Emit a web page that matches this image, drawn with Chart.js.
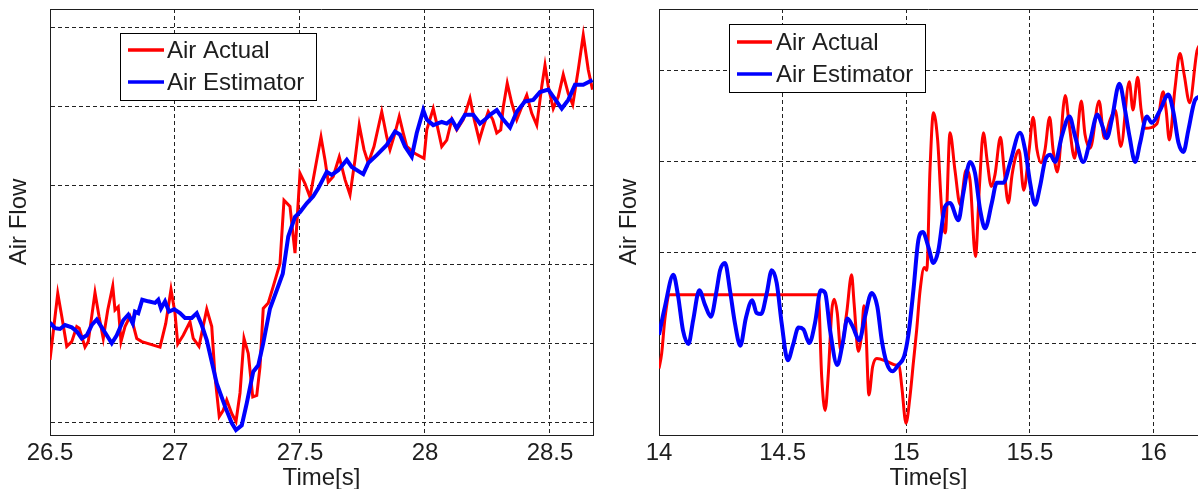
<!DOCTYPE html>
<html>
<head>
<meta charset="utf-8">
<script src="https://cdn.jsdelivr.net/npm/chart.js@4.4.0/dist/chart.umd.min.js"></script>
<style>
  html, body { margin: 0; padding: 0; background: #fff; }
  #wrap { position: relative; width: 1198px; height: 489px; overflow: hidden; }
  .panel { position: absolute; top: 0; height: 489px; }
  #p1 { left: 0; width: 600px; }
  #p2 { left: 600px; width: 598px; }
</style>
</head>
<body>
<div id="wrap">
  <div class="panel" id="p1"><canvas id="c1" width="600" height="489"></canvas></div>
  <div class="panel" id="p2"><canvas id="c2" width="598" height="489"></canvas></div>
</div>
<script>
// valores: [tiempo (s), flujo en unidades de rejilla]
const leftTicks = [26.5, 27, 27.5, 28, 28.5];
const rightTicks = [14, 14.5, 15, 15.5, 16];
const leftGrid = [0, 1, 2, 3, 4, 5];
const rightGrid = [1, 2, 3, 4];

const leftActual = [[26.5,0.80],[26.531,1.64],[26.547,1.35],[26.567,0.97],[26.587,1.03],[26.607,1.22],[26.617,1.20],[26.64,0.96],[26.653,1.03],[26.68,1.65],[26.696,1.35],[26.713,1.07],[26.731,1.43],[26.751,1.73],[26.76,1.43],[26.773,1.47],[26.784,1.03],[26.8,1.22],[26.82,1.35],[26.833,1.24],[26.847,1.07],[26.867,1.03],[26.94,0.96],[26.963,1.26],[26.984,1.69],[27.0,1.39],[27.011,1.00],[27.033,1.11],[27.06,1.28],[27.073,1.07],[27.096,0.97],[27.127,1.44],[27.147,1.22],[27.16,0.59],[27.177,0.08],[27.193,0.16],[27.207,0.29],[27.227,0.12],[27.244,0.02],[27.26,0.38],[27.276,1.07],[27.293,0.88],[27.311,0.33],[27.327,0.35],[27.34,0.71],[27.353,1.45],[27.373,1.52],[27.393,1.73],[27.42,2.02],[27.436,2.82],[27.46,2.74],[27.48,2.15],[27.5,3.16],[27.52,3.03],[27.54,2.86],[27.567,3.33],[27.584,3.62],[27.6,3.33],[27.613,3.05],[27.633,3.12],[27.657,3.37],[27.68,3.08],[27.7,2.89],[27.72,3.33],[27.737,3.77],[27.756,3.46],[27.773,3.29],[27.796,3.50],[27.827,3.94],[27.847,3.62],[27.86,3.46],[27.88,3.67],[27.897,3.88],[27.913,3.67],[27.927,3.50],[27.96,3.41],[27.996,3.35],[28.007,3.71],[28.033,3.98],[28.047,3.79],[28.067,3.50],[28.087,3.58],[28.107,3.84],[28.127,3.71],[28.153,3.84],[28.18,4.11],[28.197,3.84],[28.217,3.58],[28.233,3.75],[28.253,3.94],[28.271,3.84],[28.287,3.67],[28.303,3.71],[28.313,4.00],[28.329,4.30],[28.347,4.05],[28.367,3.84],[28.387,4.00],[28.407,4.15],[28.427,3.92],[28.447,3.77],[28.467,4.26],[28.48,4.53],[28.493,4.26],[28.513,3.98],[28.533,4.13],[28.553,4.41],[28.573,4.17],[28.591,4.03],[28.613,4.47],[28.633,4.91],[28.653,4.47],[28.67,4.22]];

const leftEstimator = [[26.5,1.27],[26.52,1.20],[26.54,1.19],[26.56,1.24],[26.587,1.21],[26.607,1.16],[26.627,1.07],[26.647,1.11],[26.667,1.24],[26.687,1.31],[26.707,1.21],[26.727,1.11],[26.747,1.01],[26.767,1.11],[26.793,1.30],[26.813,1.37],[26.831,1.26],[26.84,1.41],[26.853,1.39],[26.869,1.56],[26.893,1.54],[26.92,1.52],[26.933,1.56],[26.944,1.45],[26.96,1.54],[26.976,1.41],[26.997,1.44],[27.02,1.39],[27.04,1.33],[27.067,1.33],[27.087,1.39],[27.107,1.24],[27.127,1.05],[27.167,0.50],[27.2,0.21],[27.227,0.00],[27.244,-0.09],[27.267,-0.03],[27.287,0.25],[27.313,0.65],[27.333,0.73],[27.353,1.01],[27.38,1.45],[27.407,1.68],[27.431,1.89],[27.453,2.36],[27.48,2.61],[27.5,2.67],[27.527,2.78],[27.553,2.87],[27.573,2.97],[27.607,3.18],[27.627,3.14],[27.653,3.20],[27.687,3.33],[27.707,3.24],[27.753,3.15],[27.773,3.29],[27.807,3.39],[27.847,3.52],[27.88,3.69],[27.9,3.65],[27.92,3.50],[27.947,3.37],[27.967,3.67],[27.993,3.96],[28.007,3.84],[28.033,3.77],[28.067,3.81],[28.087,3.79],[28.107,3.84],[28.127,3.73],[28.16,3.90],[28.193,3.90],[28.22,3.79],[28.24,3.84],[28.26,3.90],[28.287,3.96],[28.313,3.84],[28.34,3.74],[28.367,3.94],[28.4,4.07],[28.433,4.09],[28.46,4.19],[28.493,4.22],[28.513,4.13],[28.547,3.98],[28.573,4.09],[28.6,4.28],[28.633,4.28],[28.67,4.34]];

const rightActual = [[14.0,0.73],[14.011,0.90],[14.024,1.28],[14.044,1.54],[14.644,1.54],[14.658,0.64],[14.672,0.27],[14.685,0.68],[14.699,1.37],[14.709,1.49],[14.721,1.34],[14.735,0.93],[14.759,1.34],[14.779,1.76],[14.789,1.45],[14.806,0.92],[14.82,1.12],[14.829,1.42],[14.837,1.15],[14.849,0.44],[14.864,0.75],[14.881,0.84],[14.921,0.81],[14.955,0.77],[14.971,0.76],[14.982,0.53],[14.999,0.13],[15.015,0.42],[15.029,0.80],[15.042,1.15],[15.056,1.59],[15.073,1.84],[15.083,1.81],[15.096,2.91],[15.11,3.54],[15.127,3.24],[15.143,2.49],[15.158,2.22],[15.177,3.32],[15.197,2.91],[15.218,2.53],[15.242,2.91],[15.258,2.80],[15.28,1.96],[15.296,2.73],[15.312,3.32],[15.327,3.02],[15.344,2.73],[15.359,2.86],[15.381,3.27],[15.396,2.91],[15.413,2.55],[15.428,2.86],[15.443,3.06],[15.456,3.13],[15.475,2.69],[15.497,3.13],[15.513,3.49],[15.529,3.13],[15.545,2.99],[15.561,3.13],[15.58,3.49],[15.594,3.13],[15.611,2.89],[15.643,3.73],[15.659,3.41],[15.681,3.04],[15.708,3.67],[15.723,3.30],[15.744,3.15],[15.78,3.67],[15.801,3.26],[15.824,3.46],[15.845,3.57],[15.868,3.17],[15.902,3.88],[15.917,3.57],[15.936,3.93],[15.95,3.57],[15.967,3.37],[16.014,3.42],[16.039,3.77],[16.051,3.57],[16.064,3.24],[16.087,3.81],[16.107,4.19],[16.124,3.96],[16.146,3.65],[16.176,4.22],[16.19,4.30]];

const rightEstimator = [[14.0,1.10],[14.024,1.41],[14.058,1.76],[14.077,1.53],[14.097,1.15],[14.119,1.00],[14.138,1.26],[14.163,1.59],[14.186,1.43],[14.21,1.30],[14.233,1.59],[14.247,1.81],[14.267,1.89],[14.287,1.59],[14.307,1.23],[14.329,0.98],[14.351,1.28],[14.377,1.48],[14.395,1.34],[14.413,1.33],[14.436,1.56],[14.456,1.81],[14.476,1.67],[14.496,1.23],[14.521,0.82],[14.542,0.99],[14.564,1.18],[14.584,1.16],[14.608,1.01],[14.631,1.23],[14.654,1.59],[14.672,1.56],[14.692,1.15],[14.721,0.77],[14.743,1.01],[14.762,1.28],[14.784,1.19],[14.81,1.04],[14.833,1.30],[14.86,1.56],[14.883,1.41],[14.901,1.04],[14.921,0.79],[14.945,0.70],[14.968,0.77],[14.991,0.86],[15.008,1.09],[15.029,1.59],[15.049,2.14],[15.067,2.23],[15.089,2.07],[15.11,1.89],[15.13,2.03],[15.157,2.51],[15.177,2.55],[15.211,2.36],[15.231,2.66],[15.258,3.00],[15.278,2.88],[15.299,2.47],[15.319,2.27],[15.346,2.55],[15.366,2.77],[15.393,2.77],[15.42,2.99],[15.46,3.32],[15.481,3.13],[15.501,2.77],[15.521,2.53],[15.541,2.73],[15.562,3.02],[15.582,3.08],[15.602,3.00],[15.629,3.28],[15.66,3.50],[15.683,3.28],[15.716,3.00],[15.744,3.24],[15.773,3.52],[15.794,3.39],[15.811,3.26],[15.831,3.46],[15.862,3.86],[15.885,3.57],[15.903,3.28],[15.926,3.00],[15.946,3.21],[15.973,3.50],[15.993,3.43],[16.027,3.57],[16.06,3.74],[16.081,3.54],[16.101,3.21],[16.121,3.11],[16.141,3.35],[16.168,3.68],[16.19,3.72]];

const FONT = 'Liberation Sans, Arial, sans-serif';
const INK = '#1e1e1e';

// caja de ejes (lados que faltan) + leyenda estilo MATLAB
const framePlugin = {
  id: 'frame',
  afterDraw(chart, args, opts) {
    const { ctx, chartArea: a } = chart;
    const al = v => Math.round(v - 0.5) + 0.5;
    ctx.save();
    ctx.strokeStyle = INK;
    ctx.lineWidth = 1;
    ctx.beginPath();
    ctx.moveTo(a.left, al(a.top));
    ctx.lineTo(a.right, al(a.top));
    if (opts.right) {
      ctx.moveTo(al(a.right), a.top);
      ctx.lineTo(al(a.right), a.bottom);
    }
    ctx.stroke();

    const lg = opts.legend;
    ctx.fillStyle = '#fff';
    ctx.fillRect(lg.x, lg.y, lg.w, lg.h);
    ctx.strokeStyle = '#000';
    ctx.strokeRect(lg.x + 0.5, lg.y + 0.5, lg.w, lg.h);
    ctx.font = '24px ' + FONT;
    ctx.textBaseline = 'middle';
    ctx.textAlign = 'left';
    chart.data.datasets.forEach((ds, i) => {
      const y = lg.rows[i];
      ctx.strokeStyle = ds.borderColor;
      ctx.lineWidth = 3.5;
      ctx.beginPath();
      ctx.moveTo(lg.lineX[0], y);
      ctx.lineTo(lg.lineX[1], y);
      ctx.stroke();
      ctx.fillStyle = INK;
      ctx.fillText(ds.label, lg.textX, y + 1);
    });
    ctx.restore();
  }
};

function toXY(arr) {
  return arr.map(p => ({ x: p[0], y: p[1] }));
}

function makeChart(id, cfg) {
  return new Chart(document.getElementById(id), {
    type: 'line',
    data: {
      datasets: [
        { label: 'Air Actual', data: toXY(cfg.actual), borderColor: '#ff0000', borderWidth: 3,
          pointRadius: 0, order: 1, cubicInterpolationMode: cfg.mode, tension: 0 },
        { label: 'Air Estimator', data: toXY(cfg.estimator), borderColor: '#0000ff', borderWidth: 4,
          pointRadius: 0, order: 0, cubicInterpolationMode: cfg.mode, tension: 0 }
      ]
    },
    options: {
      responsive: false,
      animation: false,
      events: [],
      layout: { padding: cfg.padding },
      plugins: {
        legend: { display: false },
        tooltip: { enabled: false },
        frame: cfg.frame
      },
      scales: {
        x: {
          type: 'linear',
          min: cfg.xMin,
          max: cfg.xMax,
          afterBuildTicks: s => { s.ticks = cfg.xTicks.map(v => ({ value: v })); },
          afterFit: s => { s.height = 54; },
          ticks: { callback: v => String(v), color: INK, padding: 4, maxRotation: 0, autoSkip: false,
                   font: { family: FONT, size: 24 } },
          grid: { color: '#222', lineWidth: 1, drawTicks: false },
          border: { display: true, color: INK, width: 1, dash: [4, 3] },
          title: { display: true, text: 'Time[s]', color: INK, padding: { top: 0, bottom: -1 },
                   font: { family: FONT, size: 24, lineHeight: 1 } }
        },
        y: {
          type: 'linear',
          min: cfg.yMin,
          max: cfg.yMax,
          afterBuildTicks: s => { s.ticks = cfg.yTicks.map(v => ({ value: v })); },
          afterFit: s => { s.width = cfg.yWidth; },
          ticks: { display: false },
          grid: { color: '#222', lineWidth: 1, drawTicks: false },
          border: { display: true, color: INK, width: 1, dash: [4, 3] },
          title: { display: true, text: 'Air Flow', color: INK, padding: { top: 7, bottom: 0 },
                   font: { family: FONT, size: 24, lineHeight: 1 } }
        }
      }
    },
    plugins: [framePlugin]
  });
}

makeChart('c1', {
  actual: leftActual, estimator: leftEstimator, mode: 'default',
  xMin: 26.5, xMax: 28.672, xTicks: leftTicks,
  yMin: -0.152, yMax: 5.24, yTicks: leftGrid, yWidth: 50,
  padding: { left: 0, top: 9, right: 7, bottom: 0 },
  frame: { right: true, legend: { x: 120, y: 33, w: 196, h: 67, rows: [50, 82], lineX: [128, 164], textX: 167 } }
});

makeChart('c2', {
  actual: rightActual, estimator: rightEstimator, mode: 'monotone',
  xMin: 14, xMax: 16.18, xTicks: rightTicks,
  yMin: 0, yMax: 4.68, yTicks: rightGrid, yWidth: 49,
  padding: { left: 10, top: 9, right: 0, bottom: 0 },
  frame: { right: false, legend: { x: 129, y: 24, w: 196, h: 68, rows: [42, 74], lineX: [137, 172], textX: 176 } }
});
</script>
</body>
</html>
